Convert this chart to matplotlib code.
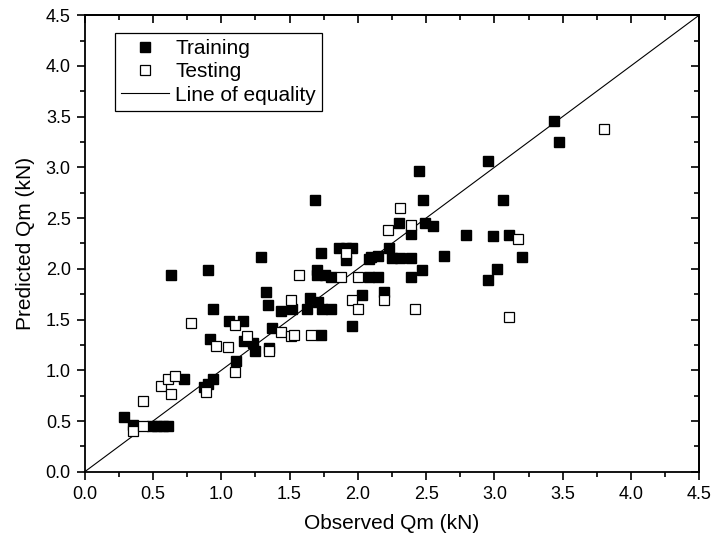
import matplotlib
matplotlib.use("Agg")
import matplotlib.pyplot as plt
from matplotlib.ticker import MultipleLocator

plt.rcParams['font.family'] = ['Liberation Sans', 'DejaVu Sans']

train_x = [0.29, 0.35, 0.49, 0.53, 0.57, 0.61, 0.63, 0.73, 0.875, 0.90, 0.94, 0.90, 0.92, 0.94,
           1.06, 1.107, 1.16, 1.165, 1.23, 1.25, 1.29, 1.33, 1.34, 1.35, 1.37, 1.44, 1.52, 1.63,
           1.65, 1.71, 1.69, 1.70, 1.70, 1.76, 1.80, 1.73, 1.74, 1.80, 1.73, 1.86, 1.91, 1.96,
           1.91, 1.96, 2.03, 2.08, 2.10, 2.15, 2.08, 2.15, 2.19, 2.23, 2.25, 2.31, 2.30, 2.39,
           2.39, 2.39, 2.45, 2.48, 2.49, 2.55, 2.47, 2.63, 2.79, 2.95, 2.95, 2.99, 3.02, 3.06,
           3.11, 3.20, 3.44, 3.47]
train_y = [0.54, 0.46, 0.45, 0.45, 0.45, 0.45, 1.94, 0.91, 0.84, 0.86, 0.91, 1.985, 1.31, 1.60,
           1.49, 1.09, 1.49, 1.285, 1.27, 1.19, 2.12, 1.77, 1.64, 1.22, 1.42, 1.58, 1.60, 1.60,
           1.71, 1.67, 2.68, 1.99, 1.94, 1.94, 1.92, 2.16, 1.60, 1.60, 1.35, 2.21, 2.21, 2.21,
           2.09, 1.44, 1.74, 2.10, 2.12, 2.13, 1.92, 1.92, 1.77, 2.21, 2.11, 2.11, 2.45, 2.34,
           2.11, 1.92, 2.96, 2.68, 2.45, 2.42, 1.99, 2.13, 2.33, 3.06, 1.89, 2.32, 2.00, 2.68,
           2.33, 2.12, 3.46, 3.25]

test_x = [0.35, 0.43, 0.43, 0.56, 0.61, 0.66, 0.63, 0.89, 0.78, 0.96, 1.05, 1.10, 1.10, 1.19,
          1.35, 1.44, 1.51, 1.53, 1.51, 1.57, 1.66, 1.88, 1.91, 1.96, 2.00, 2.00, 2.19, 2.22,
          2.31, 2.39, 2.42, 3.11, 3.17, 3.80]
test_y = [0.40, 0.45, 0.70, 0.85, 0.91, 0.94, 0.77, 0.79, 1.47, 1.24, 1.23, 0.98, 1.45, 1.34,
          1.19, 1.38, 1.34, 1.35, 1.69, 1.94, 1.35, 1.92, 2.16, 1.69, 1.92, 1.60, 1.69, 2.38,
          2.60, 2.43, 1.60, 1.53, 2.29, 3.38]

eq_line = [0.0, 4.5]

fig = plt.figure(figsize=(7.12, 5.41), dpi=100)
ax = fig.add_axes([0.119, 0.128, 0.863, 0.844])

ax.plot(train_x, train_y, linestyle='none', marker='s', markersize=6.5,
        markerfacecolor='black', markeredgecolor='black', label='Training', zorder=3)
ax.plot(test_x, test_y, linestyle='none', marker='s', markersize=6.5,
        markerfacecolor='white', markeredgecolor='black', markeredgewidth=0.9,
        label='Testing', zorder=4)
ax.plot(eq_line, eq_line, color='black', linewidth=0.8, label='Line of equality', zorder=2)

ax.set_xlim(0, 4.5)
ax.set_ylim(0, 4.5)
ax.xaxis.set_major_locator(MultipleLocator(0.5))
ax.yaxis.set_major_locator(MultipleLocator(0.5))
ax.xaxis.set_minor_locator(MultipleLocator(0.25))
ax.yaxis.set_minor_locator(MultipleLocator(0.25))
ax.set_xticklabels([f"{v:.1f}" for v in ax.get_xticks()])
ax.set_yticklabels([f"{v:.1f}" for v in ax.get_yticks()])

for s in ax.spines.values():
    s.set_linewidth(1.3)
ax.tick_params(which='both', direction='out', top=False, right=False, labelsize=13, width=1.2)
ax.tick_params(which='major', length=6, pad=4)
ax.tick_params(which='minor', length=3.5)

# inward ticks on top/right
sec_x = ax.secondary_xaxis('top')
sec_x.xaxis.set_major_locator(MultipleLocator(0.5))
sec_x.xaxis.set_minor_locator(MultipleLocator(0.25))
sec_x.tick_params(which='both', direction='in', labeltop=False, width=1.2)
sec_x.tick_params(which='major', length=6)
sec_x.tick_params(which='minor', length=3.5)
sec_x.spines['top'].set_linewidth(1.3)
sec_y = ax.secondary_yaxis('right')
sec_y.yaxis.set_major_locator(MultipleLocator(0.5))
sec_y.yaxis.set_minor_locator(MultipleLocator(0.25))
sec_y.tick_params(which='both', direction='in', labelright=False, width=1.2)
sec_y.tick_params(which='major', length=6)
sec_y.tick_params(which='minor', length=3.5)
sec_y.spines['right'].set_linewidth(1.3)

ax.set_xlabel('Observed Qm (kN)', fontsize=15, labelpad=8)
ax.set_ylabel('Predicted Qm (kN)', fontsize=15, labelpad=8)

leg = ax.legend(loc='upper left', bbox_to_anchor=(0.049, 0.961), fontsize=15, frameon=True,
                fancybox=False, edgecolor='black', framealpha=1, borderpad=0.3,
                borderaxespad=0.0,
                handlelength=2.3, handletextpad=0.3, labelspacing=0.2, markerscale=1.0)
leg.get_frame().set_linewidth(0.9)

fig.savefig('out.png', dpi=100)
